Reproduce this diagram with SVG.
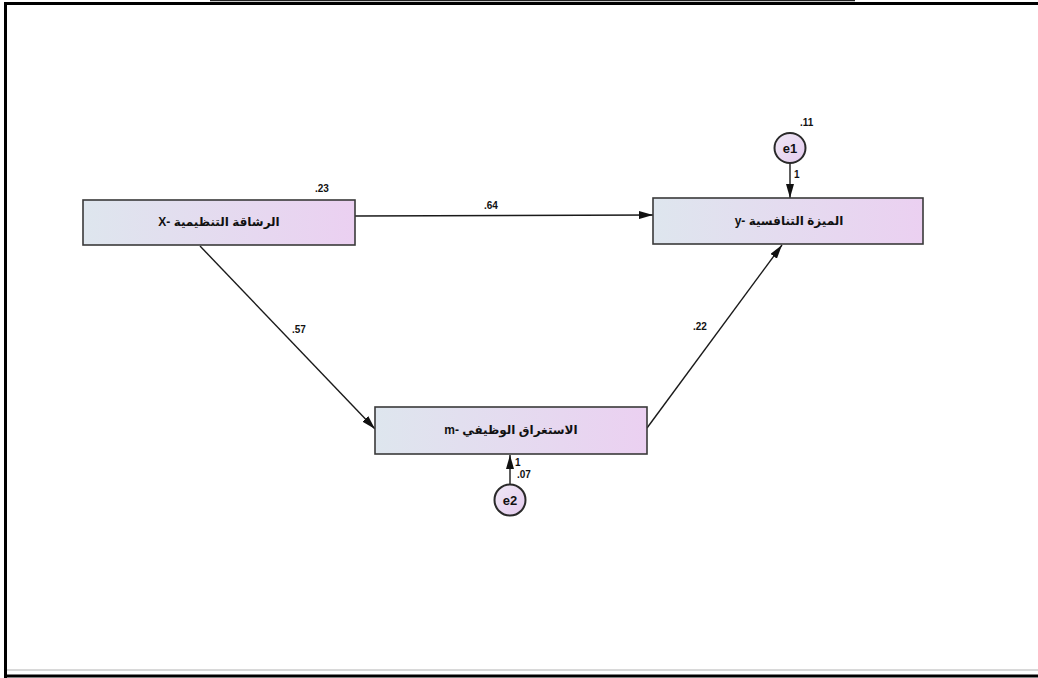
<svg xmlns="http://www.w3.org/2000/svg" width="1038" height="678" viewBox="0 0 1038 678">
  <style>
    .box { stroke: #3a3a3a; stroke-width: 1.6; fill: url(#boxFill); }
    .err { stroke: #2a2a2a; stroke-width: 2; fill: url(#errFill); }
    .lbl { font-family: "Liberation Sans", "DejaVu Sans", sans-serif; font-weight: bold; font-size: 12px; fill: #111; }
    .elbl { font-family: "Liberation Sans", "DejaVu Sans", sans-serif; font-weight: bold; font-size: 13px; fill: #111; }
    .num { font-family: "Liberation Sans", "DejaVu Sans", sans-serif; font-weight: bold; font-size: 10px; fill: #111; }
    .edge { stroke: #1a1a1a; stroke-width: 1.4; fill: none; marker-end: url(#arrow); }
  </style>
  <defs>
    <linearGradient id="boxFill" x1="0" y1="0" x2="1" y2="0">
      <stop offset="0" stop-color="#dee6ee"/>
      <stop offset="1" stop-color="#ebd0f1"/>
    </linearGradient>
    <linearGradient id="errFill" x1="0" y1="0" x2="1" y2="1">
      <stop offset="0" stop-color="#efe8f5"/>
      <stop offset="1" stop-color="#e4cbee"/>
    </linearGradient>
    <marker id="arrow" viewBox="0 0 14 8" refX="14" refY="4" markerWidth="14" markerHeight="8" markerUnits="userSpaceOnUse" orient="auto">
      <path d="M0,0 L14,4 L0,8 z" fill="#111"/>
    </marker>
  </defs>

  <rect width="1038" height="678" fill="#ffffff"/>

  <!-- page frame -->
  <g id="frame">
    <line x1="210" y1="0.5" x2="855" y2="0.5" stroke="#222" stroke-width="1.5"/>
    <path d="M5.5,678 L5.5,3.5 L1038,3.5" fill="none" stroke="#000" stroke-width="3"/>
    <line x1="7" y1="670" x2="1038" y2="670" stroke="#d8d8d8" stroke-width="2"/>
    <line x1="4" y1="676" x2="1038" y2="676" stroke="#000" stroke-width="3"/>
  </g>

  <!-- connectors -->
  <g id="connectors">
    <line class="edge" x1="355" y1="216" x2="653" y2="215"/>
    <line class="edge" x1="200" y1="246" x2="375" y2="429"/>
    <line class="edge" x1="647" y1="428" x2="782" y2="245"/>
    <line class="edge" x1="790" y1="163" x2="790" y2="198"/>
    <line class="edge" x1="510" y1="485" x2="510" y2="455"/>
    <text class="num" x="484" y="209">.64</text>
    <text class="num" x="292" y="333">.57</text>
    <text class="num" x="693" y="330">.22</text>
    <text class="num" x="794" y="178">1</text>
    <text class="num" x="515" y="466">1</text>
    <text class="num" x="517" y="478">.07</text>
  </g>

  <!-- X -->
  <g id="node-x">
    <rect class="box" x="83" y="200" width="272" height="45"/>
    <text class="lbl" x="219" y="226" text-anchor="middle">X- الرشاقة التنظيمية</text>
    <text class="num" x="315" y="192">.23</text>
  </g>

  <!-- Y -->
  <g id="node-y">
    <rect class="box" x="653" y="198" width="270" height="46"/>
    <text class="lbl" x="789" y="225" text-anchor="middle">y- الميزة التنافسية</text>
  </g>

  <!-- M -->
  <g id="node-m">
    <rect class="box" x="375" y="407" width="272" height="47"/>
    <text class="lbl" x="511" y="434" text-anchor="middle">m- الاستغراق الوظيفي</text>
  </g>

  <!-- e1 -->
  <g id="node-e1">
    <ellipse class="err" cx="790" cy="148" rx="15.5" ry="15"/>
    <text class="elbl" x="790" y="153" text-anchor="middle">e1</text>
    <text class="num" x="800" y="126">.11</text>
  </g>

  <!-- e2 -->
  <g id="node-e2">
    <ellipse class="err" cx="510" cy="500" rx="15.5" ry="15.5"/>
    <text class="elbl" x="510" y="505" text-anchor="middle">e2</text>
  </g>
</svg>
